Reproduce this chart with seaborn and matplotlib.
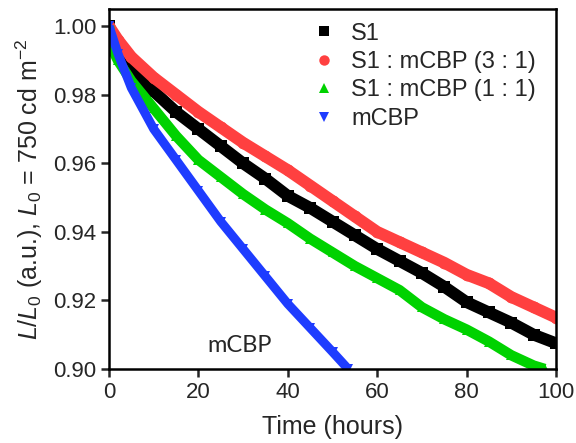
import matplotlib
matplotlib.use("Agg")
import matplotlib.pyplot as plt
from matplotlib.lines import Line2D
import seaborn as sns
import pandas as pd

# Normalised luminance decay, L/L0, against operating time (hours)
t_s1 = [0, 2, 5, 10, 15, 20, 25, 30, 35, 40, 45, 50, 55, 60, 65, 70, 75, 80, 85, 90, 95, 100]
l_s1 = [1.000, 0.993, 0.988, 0.981, 0.975, 0.970, 0.965, 0.960, 0.9555, 0.9505, 0.947, 0.943,
        0.939, 0.935, 0.9315, 0.928, 0.924, 0.9195, 0.9165, 0.9135, 0.910, 0.9075]

t_31 = [0, 2, 5, 10, 15, 20, 25, 30, 35, 40, 45, 50, 55, 60, 65, 70, 75, 80, 85, 90, 95, 100]
l_31 = [1.000, 0.996, 0.991, 0.985, 0.980, 0.975, 0.9705, 0.966, 0.962, 0.958, 0.9535, 0.949,
        0.9445, 0.940, 0.937, 0.934, 0.931, 0.9275, 0.925, 0.921, 0.918, 0.915]

t_11 = [0, 0.5, 2, 5, 10, 15, 20, 25, 30, 35, 40, 45, 50, 55, 60, 65, 70, 75, 80, 85, 90, 95, 97.5]
l_11 = [1.000, 0.994, 0.990, 0.984, 0.976, 0.968, 0.961, 0.956, 0.951, 0.9465, 0.9425, 0.938,
        0.934, 0.930, 0.9265, 0.923, 0.918, 0.9145, 0.9115, 0.908, 0.904, 0.901, 0.900]

t_mcbp = [0, 2, 5, 10, 15, 20, 25, 30, 35, 40, 45, 50, 53.5]
l_mcbp = [1.000, 0.992, 0.982, 0.970, 0.961, 0.952, 0.943, 0.935, 0.927, 0.919, 0.912, 0.905, 0.900]

labels = ["S1", "S1 : mCBP (3 : 1)", "S1 : mCBP (1 : 1)", "mCBP"]
colors = ["#000000", "#ff4040", "#00d200", "#1e3cff"]
markers = ["s", "o", "^", "v"]
widths = [8.5, 8.5, 7.5, 6.5]

sns.set_style("white")
plt.rcParams["font.family"] = ["Liberation Sans", "DejaVu Sans"]
plt.rcParams["mathtext.fontset"] = "custom"
plt.rcParams["mathtext.rm"] = "Liberation Sans"
plt.rcParams["mathtext.it"] = "Liberation Sans:italic"

fig = plt.figure(figsize=(5.76, 4.43), dpi=100)
ax = fig.add_axes([109 / 576, 1 - 369 / 443, (556 - 109) / 576, (369 - 9) / 443])

series = [(t_s1, l_s1), (t_31, l_31), (t_11, l_11), (t_mcbp, l_mcbp)]
for (t, l), c, m, w in zip(series, colors, markers, widths):
    df = pd.DataFrame({"t": t, "l": l})
    sns.lineplot(data=df, x="t", y="l", color=c, linewidth=w, ax=ax,
                 marker=m, markersize=w, markeredgewidth=0, solid_capstyle="butt")

ax.set_xlim(0, 100)
ax.set_ylim(0.90, 1.005)
ax.set_xticks([0, 20, 40, 60, 80, 100])
ax.set_yticks([0.90, 0.92, 0.94, 0.96, 0.98, 1.00])
ax.set_yticklabels(["0.90", "0.92", "0.94", "0.96", "0.98", "1.00"])
ax.tick_params(axis="both", direction="out", length=6, width=1.8, labelsize=16,
               bottom=True, left=True, top=False, right=False, pad=3)
for s in ax.spines.values():
    s.set_linewidth(1.8)
    s.set_color("black")

ax.set_xlabel("Time (hours)", fontsize=18, labelpad=9)
ax.set_ylabel(r"$\it{L}/\it{L}_0$ (a.u.), $\it{L}_0$ = 750 cd m$^{-2}$", fontsize=18, labelpad=6)

ax.text(29.2, 0.907, "mCBP", fontsize=17, family="Lato", ha="center", va="center")

handles = [Line2D([], [], linestyle="none", marker=m, color=c, markersize=7 if m != "o" else 7.5,
                  markeredgewidth=0) for m, c in zip(markers, colors)]
ax.legend(handles, labels, loc="upper left", bbox_to_anchor=(0.454, 0.962), frameon=False,
          fontsize=17, handlelength=1.0, handletextpad=0.66, labelspacing=0.27, borderpad=0,
          borderaxespad=0)

fig.savefig("out.png", dpi=100)
